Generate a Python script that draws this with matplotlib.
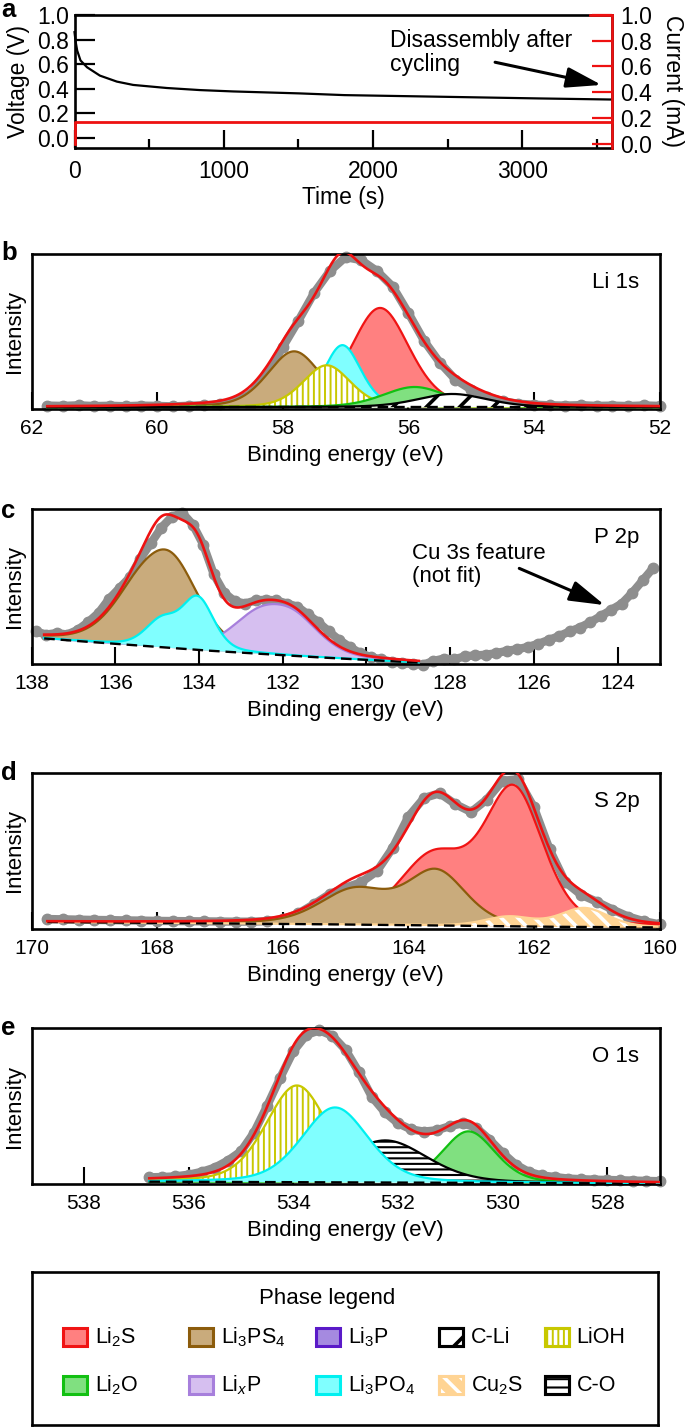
import numpy as np
import matplotlib
matplotlib.use("Agg")
import matplotlib.pyplot as plt
from matplotlib.patches import Rectangle

plt.rcParams["font.family"] = ["Liberation Sans", "DejaVu Sans"]
plt.rcParams["mathtext.fontset"] = "custom"
plt.rcParams["mathtext.rm"] = "Liberation Sans"
plt.rcParams["mathtext.it"] = "Liberation Sans:italic"
plt.rcParams["hatch.linewidth"] = 1.5

W, H = 685, 1428
RED = "#EE1111"
GREY = "#8E8E8E"

# ---------------- panel a: cell cycling ----------------
time_s = [0, 8, 18, 40, 84, 170, 284, 393, 618, 840, 1062, 1284, 1507, 1807, 2440, 3107, 3600]
voltage_v = [0.86, 0.78, 0.71, 0.63, 0.574, 0.506, 0.457, 0.43, 0.405, 0.388, 0.377,
             0.369, 0.361, 0.347, 0.334, 0.32, 0.311]
current_time_s = [0, 0, 3600]
current_ma = [0.0, 0.17, 0.17]

# ---------------- panel b: Li 1s ----------------
li1s_energy = [61.75, 61.5, 61.25, 61.0, 60.75, 60.5, 60.25, 60.0, 59.75, 59.5, 59.25, 59.0,
               58.75, 58.5, 58.25, 58.0, 57.75, 57.5, 57.25, 57.0, 56.75, 56.5, 56.25, 56.0,
               55.75, 55.5, 55.25, 55.0, 54.75, 54.5, 54.25, 54.0, 53.75, 53.5, 53.25, 53.0,
               52.75, 52.5, 52.25, 52.0]
li1s_counts = [0.022, 0.020, 0.024, 0.019, 0.021, 0.018, 0.022, 0.020, 0.017, 0.021, 0.024, 0.030,
               0.050, 0.100, 0.230, 0.400, 0.570, 0.750, 0.890, 0.980, 0.960, 0.890, 0.790, 0.620,
               0.440, 0.300, 0.190, 0.125, 0.080, 0.050, 0.034, 0.028, 0.024, 0.022, 0.025, 0.020,
               0.022, 0.019, 0.023, 0.020]
li1s_bg_energy = [61.75, 52.0]
li1s_bg = [0.012, 0.012]
# (centre eV, height, FWHM) per fitted component, in drawing order
li1s_peaks = {
    "Li2S": [(56.45, 0.64, 1.1)],
    "Li3PS4": [(57.82, 0.36, 1.0)],
    "Li3PO4": [(57.05, 0.40, 0.7)],
    "LiOH": [(57.3, 0.27, 0.9)],
    "Li2O": [(55.9, 0.13, 1.2)],
    "C-Li": [(55.3, 0.085, 1.3)],
}

# ---------------- panel c: P 2p ----------------
p2p_energy = [137.9, 137.65, 137.4, 137.15, 136.9, 136.65, 136.4, 136.15, 135.9, 135.65, 135.4,
              135.15, 134.9, 134.65, 134.4, 134.15, 133.9, 133.65, 133.4, 133.15, 132.9, 132.65,
              132.4, 132.15, 131.9, 131.65, 131.4, 131.15, 130.9, 130.65, 130.4, 130.15, 129.9,
              129.65, 129.4, 129.15, 128.9, 128.65, 128.4, 128.15, 127.9, 127.65, 127.4, 127.15,
              126.9, 126.65, 126.4, 126.15, 125.9, 125.65, 125.4, 125.15, 124.9, 124.65, 124.4,
              124.15, 123.9, 123.65, 123.4, 123.15]
p2p_counts = [0.21, 0.19, 0.20, 0.19, 0.22, 0.27, 0.33, 0.42, 0.49, 0.56, 0.68,
              0.78, 0.88, 0.95, 0.975, 0.90, 0.77, 0.58, 0.46, 0.405, 0.39, 0.41,
              0.415, 0.41, 0.39, 0.37, 0.32, 0.27, 0.21, 0.155, 0.11, 0.07, 0.045,
              0.03, 0.015, 0.005, 0.0, -0.005, 0.02, 0.035, 0.03, 0.05, 0.055, 0.06,
              0.07, 0.085, 0.095, 0.11, 0.13, 0.155, 0.18, 0.21, 0.235, 0.27, 0.31,
              0.35, 0.39, 0.46, 0.54, 0.62]
p2p_bg_energy = [137.7, 137.24, 134.0, 131.43, 128.75]
p2p_bg = [0.165, 0.155, 0.09, 0.047, 0.009]
p2p_peaks = {
    "Li3PS4": [(134.65, 0.50, 1.6), (135.5, 0.25, 1.6)],
    "LixP": [(132.6, 0.22, 1.6), (131.7, 0.20, 1.5)],
    "Li3PO4": [(134.03, 0.33, 0.9), (134.9, 0.165, 0.9)],
}

# ---------------- panel d: S 2p ----------------
s2p_energy = [169.75, 169.5, 169.25, 169.0, 168.75, 168.5, 168.25, 168.0, 167.75, 167.5,
              167.25, 167.0, 166.75, 166.5, 166.25, 166.0, 165.75, 165.5, 165.25, 165.0,
              164.75, 164.5, 164.25, 164.0, 163.75, 163.5, 163.25, 163.0, 162.75, 162.5,
              162.25, 162.0, 161.75, 161.5, 161.25, 161.0, 160.75, 160.5, 160.25, 160.0]
s2p_counts = [0.064, 0.062, 0.060, 0.058, 0.057, 0.055, 0.054, 0.052, 0.051, 0.050,
              0.049, 0.048, 0.047, 0.047, 0.050, 0.062, 0.100, 0.160, 0.225, 0.265,
              0.300, 0.370, 0.520, 0.720, 0.840, 0.870, 0.800, 0.750, 0.830, 0.950,
              0.960, 0.780, 0.510, 0.300, 0.220, 0.175, 0.125, 0.080, 0.050, 0.030]
s2p_bg_energy = [169.75, 166.0, 164.0, 162.0, 160.0]
s2p_bg = [0.045, 0.033, 0.025, 0.015, 0.010]
s2p_peaks = {
    "Li2S": [(162.32, 0.86, 1.1), (163.6, 0.43, 1.3)],
    "Li3PS4": [(163.55, 0.34, 1.1), (164.85, 0.22, 1.3)],
    "Cu2S": [(161.2, 0.12, 0.9), (162.4, 0.06, 0.9)],
}

# ---------------- panel e: O 1s ----------------
o1s_energy = [536.75, 536.5, 536.25, 536.0, 535.75, 535.5, 535.25, 535.0, 534.75, 534.5,
              534.25, 534.0, 533.75, 533.5, 533.25, 533.0, 532.75, 532.5, 532.25, 532.0,
              531.75, 531.5, 531.25, 531.0, 530.75, 530.5, 530.25, 530.0, 529.75, 529.5,
              529.25, 529.0, 528.75, 528.5, 528.25, 528.0, 527.75, 527.5, 527.25, 527.0]
o1s_counts = [0.043, 0.045, 0.049, 0.060, 0.078, 0.105, 0.150, 0.209, 0.330, 0.500,
              0.680, 0.850, 0.955, 0.985, 0.950, 0.860, 0.720, 0.560, 0.460, 0.390,
              0.350, 0.336, 0.345, 0.372, 0.389, 0.360, 0.285, 0.200, 0.125, 0.078,
              0.055, 0.045, 0.035, 0.031, 0.028, 0.026, 0.024, 0.022, 0.020, 0.018]
o1s_bg_energy = [536.75, 531.0, 527.0]
o1s_bg = [0.015, 0.008, 0.003]
o1s_peaks = {
    "Li2O": [(530.65, 0.33, 1.2)],
    "LiOH": [(533.93, 0.62, 1.4)],
    "C-O": [(532.24, 0.27, 1.9)],
    "Li3PO4": [(533.2, 0.48, 1.5)],
}

STYLE = {
    "Li2S": dict(face="#FF8080", edge="#F01414"),
    "Li3PS4": dict(face="#C9AB7C", edge="#8C5C0C"),
    "Li3P": dict(face="#A58AE0", edge="#5A1AC8"),
    "C-Li": dict(face="white", edge="black", hatch="/", hcolor="black", hlw=2.6),
    "LiOH": dict(face="white", edge="#C8C800", hatch="|||", hcolor="#C8C800", hlw=1.4),
    "Li2O": dict(face="#80E080", edge="#12C012"),
    "LixP": dict(face="#D6BFF0", edge="#A77FDC"),
    "Li3PO4": dict(face="#80FFFF", edge="#00F0F0"),
    "Cu2S": dict(face="#FFD494", edge="#FFD494", hatch="\\\\", hcolor="white", hlw=2.6),
    "C-O": dict(face="white", edge="black", hatch="---", hcolor="black", hlw=1.5),
}
LABELS = {
    "Li2S": "Li$_2$S", "Li3PS4": "Li$_3$PS$_4$", "Li3P": "Li$_3$P", "C-Li": "C-Li",
    "LiOH": "LiOH", "Li2O": "Li$_2$O", "LixP": "Li$_x$P", "Li3PO4": "Li$_3$PO$_4$",
    "Cu2S": "Cu$_2$S", "C-O": "C-O",
}
LEGEND_ROWS = [["Li2S", "Li3PS4", "Li3P", "C-Li", "LiOH"],
               ["Li2O", "LixP", "Li3PO4", "Cu2S", "C-O"]]


def box(l, t, r, b):
    return [l / W, 1 - b / H, (r - l) / W, (b - t) / H]


def peak(x, c, h, w, m=0.3):
    u = ((x - c) / w) ** 2
    return h * (m / (1 + 4 * u) + (1 - m) * np.exp(-4 * np.log(2) * u))


def hatch_width(artist, lw):
    # per-artist hatch width where this matplotlib supports it
    if hasattr(artist, "set_hatch_linewidth"):
        artist.set_hatch_linewidth(lw)


def spectrum(ax, energy, counts, bg_e, bg_v, peaks, xlim, ticks, tag):
    ax.plot(energy, counts, color=GREY, lw=6, zorder=2, solid_capstyle="round", clip_on=False)
    ax.plot(energy, counts, "o", color=GREY, ms=7.5, zorder=2, clip_on=False)

    x = np.linspace(bg_e[0], bg_e[-1], 800)
    base = np.interp(x, np.array(bg_e)[::-1], np.array(bg_v)[::-1])
    total = base.copy()
    for name, pars in peaks.items():
        comp = sum(peak(x, *p) for p in pars)
        total = total + comp
        st = STYLE[name]
        if "hatch" in st:
            with plt.rc_context({"hatch.linewidth": st["hlw"]}):
                coll = ax.fill_between(x, base, base + comp, facecolor=st["face"],
                                       edgecolor=st["hcolor"], hatch=st["hatch"], lw=0, zorder=3)
            hatch_width(coll, st["hlw"])
        else:
            ax.fill_between(x, base, base + comp, facecolor=st["face"], lw=0, zorder=3)
        ax.plot(x, base + comp, color=st["edge"], lw=1.6, zorder=3)
    ax.plot(x, base, color="black", lw=1.7, dashes=(4.5, 2.5), zorder=4)
    ax.plot(x, total, color=RED, lw=1.9, zorder=5)

    ax.set_xlim(*xlim)
    ax.set_ylim(0, 1)
    ax.set_yticks([])
    ax.set_xticks(ticks)
    ax.set_axisbelow(True)
    ax.tick_params(axis="x", direction="in", length=12.5, width=1.5, labelsize=15, pad=7.5)
    for s in ax.spines.values():
        s.set_linewidth(1.9)
    ax.set_xlabel("Binding energy (eV)", fontsize=16, labelpad=5)
    ax.set_ylabel("Intensity", fontsize=16, labelpad=5)
    ax.text(0.968, 0.815, tag, transform=ax.transAxes, ha="right", va="center", fontsize=16)


fig = plt.figure(figsize=(W / 100, H / 100), dpi=100)

# ---- a ----
ax = fig.add_axes(box(74.5, 15, 612, 147.5))
ax.plot(time_s, voltage_v, color="black", lw=1.6, zorder=3, clip_on=False)
ax.set_xlim(0, 3600)
ax.set_ylim(-0.08, 1.0)
ax.set_xticks([0, 1000, 2000, 3000])
ax.set_xticks([500, 1500, 2500, 3500], minor=True)
ax.set_yticks([0, 0.2, 0.4, 0.6, 0.8, 1.0])
ax.tick_params(axis="y", direction="in", length=14.5, width=1.6, labelsize=16.5, pad=4)
ax.tick_params(axis="x", which="major", direction="in", length=13, width=1.6, labelsize=16.5, pad=9)
ax.tick_params(axis="x", which="minor", direction="in", length=6.5, width=1.6)
for s in ax.spines.values():
    s.set_linewidth(1.9)
ax.set_xlabel("Time (s)", fontsize=16.5, labelpad=2)
ax.set_ylabel("Voltage (V)", fontsize=16.5, labelpad=5)
ax.text(2110, 0.695, "Disassembly after\ncycling", ha="left", va="center", fontsize=16.5,
        linespacing=1.05)
ax.annotate("", xy=(3530, 0.43), xytext=(2817, 0.615),
            arrowprops=dict(arrowstyle="-|>,head_length=1.2,head_width=0.35", color="black",
                            lw=2.2, mutation_scale=18, shrinkA=0, shrinkB=0))

ax2 = ax.twinx()
ax2.plot(current_time_s, current_ma, color=RED, lw=2.0, zorder=3, clip_on=False)
ax2.set_ylim(-0.03, 1.0)
ax2.set_yticks([0, 0.2, 0.4, 0.6, 0.8, 1.0])
ax2.tick_params(axis="y", direction="in", length=14.5, width=1.6, color=RED, labelsize=16.5, pad=6)
ax2.spines["left"].set_visible(False)
ax2.spines["bottom"].set_visible(False)
ax2.spines["right"].set_color(RED)
ax2.spines["right"].set_linewidth(1.9)
ax2.spines["top"].set_color(RED)
ax2.spines["top"].set_linewidth(1.9)
ax2.spines["top"].set_bounds(3455, 3600)
ax2.set_ylabel("Current (mA)", fontsize=16.5, rotation=270, va="bottom", labelpad=6)

# ---- b-e ----
axb = fig.add_axes(box(31.6, 254, 659.5, 409))
spectrum(axb, li1s_energy, li1s_counts, li1s_bg_energy, li1s_bg, li1s_peaks,
         (62, 52), [62, 60, 58, 56, 54, 52], "Li 1s")

axc = fig.add_axes(box(31.6, 509, 659.5, 664))
spectrum(axc, p2p_energy, p2p_counts, p2p_bg_energy, p2p_bg, p2p_peaks,
         (138, 123), [138, 136, 134, 132, 130, 128, 126, 124], "P 2p")
axc.text(128.92, 0.64, "Cu 3s feature\n(not fit)", ha="left", va="center", fontsize=16,
         linespacing=1.1)
axc.annotate("", xy=(124.31, 0.38), xytext=(126.35, 0.617),
             arrowprops=dict(arrowstyle="-|>,head_length=1.2,head_width=0.35", color="black",
                             lw=2.2, mutation_scale=18, shrinkA=0, shrinkB=0))

axd = fig.add_axes(box(31.6, 773, 659.5, 929))
spectrum(axd, s2p_energy, s2p_counts, s2p_bg_energy, s2p_bg, s2p_peaks,
         (170, 160), [170, 168, 166, 164, 162, 160], "S 2p")

axe = fig.add_axes(box(31.6, 1028, 659.5, 1184))
spectrum(axe, o1s_energy, o1s_counts, o1s_bg_energy, o1s_bg, o1s_peaks,
         (539, 527), [538, 536, 534, 532, 530, 528], "O 1s")

for letter, ypx in zip("abcde", [10, 253, 511, 773, 1028]):
    fig.text(1 / W, 1 - ypx / H, letter, ha="left", va="center", fontsize=18.5, fontweight="bold")

# ---- phase legend ----
lax = fig.add_axes(box(32, 1272, 658, 1425))
lax.set_xlim(0, 1)
lax.set_ylim(0, 1)
lax.set_xticks([])
lax.set_yticks([])
for s in lax.spines.values():
    s.set_linewidth(1.9)
lax.text(0.471, 0.83, "Phase legend", ha="center", va="center", fontsize=16)
col_x = [0.0495, 0.251, 0.453, 0.65, 0.819]
row_y = [0.575, 0.26]
pw, ph = 24 / 626, 18 / 153
for row, yc in zip(LEGEND_ROWS, row_y):
    for name, xc in zip(row, col_x):
        st = STYLE[name]
        lax.add_patch(Rectangle((xc, yc - ph / 2), pw, ph, facecolor=st["face"],
                                edgecolor=st["edge"], lw=2.2))
        if "hatch" in st:
            hatch = "--" if name == "C-O" else st["hatch"]
            with plt.rc_context({"hatch.linewidth": st["hlw"]}):
                hp = Rectangle((xc, yc - ph / 2), pw, ph, facecolor="none",
                               edgecolor=st["hcolor"], lw=0, hatch=hatch)
            hatch_width(hp, st["hlw"])
            lax.add_patch(hp)
            lax.add_patch(Rectangle((xc, yc - ph / 2), pw, ph, facecolor="none",
                                    edgecolor=st["edge"], lw=2.2))
        lax.text(xc + 32 / 626, yc, LABELS[name], ha="left", va="center", fontsize=15.5)

fig.savefig("out.png", dpi=100)
